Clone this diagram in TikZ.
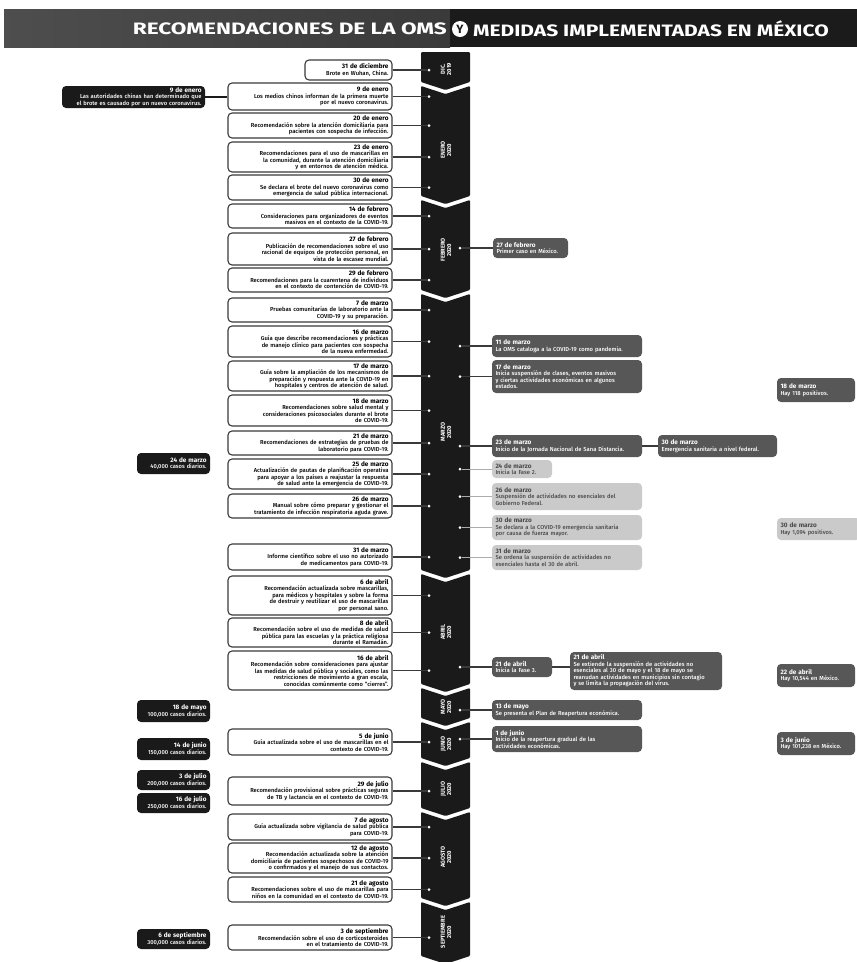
\documentclass[tikz,border=0pt]{standalone}
\usepackage{graphicx}
\usepackage{fontspec}
\setmainfont{Fira Sans}[UprightFont=* Medium, BoldFont=* Bold]
\definecolor{spinec}{HTML}{1A1A1A}
\definecolor{boxline}{HTML}{3A3A3A}
\definecolor{dgray}{HTML}{575757}
\definecolor{lgray}{HTML}{CACACA}
\definecolor{lgtext}{HTML}{4A4A4A}
\definecolor{hdrleft}{HTML}{3A3A3A}
\definecolor{hdrright}{HTML}{1B1B1B}
\newcommand{\tlbox}[7]{%
  \pgfmathsetmacro{\tlbw}{#5-#3}%
  \pgfmathsetmacro{\tlbh}{#6-#4}%
  \pgfmathsetmacro{\tltw}{#5-#3-7}%
  \node[#1, minimum width=\tlbw pt, minimum height=\tlbh pt, text width=\tltw pt] (#2) at ({(#3+#5)/2},{(#4+#6)/2}) {#7};}
\newcommand{\dte}[1]{{\fontsize{6.4}{7}\selectfont\bfseries #1}}
\newcommand{\tlseg}[2]{\fill[spinec, rounded corners=1pt] (421,#1) -- (445.5,#1+8) -- (470,#1) -- (470,#2) -- (445.5,#2+8) -- (421,#2) -- cycle;}
\tikzset{
  boxfont/.style={font=\fontsize{5.8}{6.5}\selectfont},
  wbox/.style={boxfont, draw=boxline, line width=1.1pt, fill=white, rounded corners=4pt, inner xsep=3.5pt, inner ysep=1pt, align=right, text=black},
  bbox/.style={boxfont, fill=spinec, rounded corners=4pt, inner xsep=3.5pt, inner ysep=1pt, align=right, text=white},
  dbox/.style={boxfont, fill=dgray, rounded corners=4pt, inner xsep=3.5pt, inner ysep=1pt, align=left, text=white},
  lbox/.style={boxfont, fill=lgray, rounded corners=4pt, inner xsep=3.5pt, inner ysep=1pt, align=left, text=lgtext},
  conn/.style={draw=boxline, line width=1.2pt},
  lconn/.style={draw=lgray!85!black, line width=0.8pt},
  tdot/.style={circle, fill=white, inner sep=0pt, minimum size=3pt},
  month/.style={rotate=90, text=white, align=center, font=\fontsize{5.8}{6.4}\selectfont\bfseries, inner sep=0pt},
  title/.style={text=white, inner sep=0pt, font=\fontsize{16.5}{17}\selectfont\bfseries},
  ycirc/.style={circle, fill=white, text=hdrright, inner sep=0pt, minimum size=16pt, font=\fontsize{12}{12}\selectfont\bfseries}
}
\begin{document}
\begin{tikzpicture}[x=1pt,y=-1pt]
\useasboundingbox (0,0) rectangle (857,962);
\clip (0,0) rectangle (857,962);
% header
\shade[left color=hdrleft!90!white, right color=hdrleft] (4,9) rectangle (450,47);
\fill[hdrright] (450,9) rectangle (857,47);
\node[title, anchor=east] (t1) at (447,29) {\scalebox{1.37}[1]{RECOMENDACIONES DE LA OMS}};
\node[ycirc] (ty) at (460,29) {Y};
\node[title, anchor=west] (t2) at (473,29) {\scalebox{1.27}[1]{MEDIDAS IMPLEMENTADAS EN MÉXICO}};
% spine
\fill[spinec, rounded corners=1pt] (421,52) -- (470,52) -- (470,82) -- (445.5,90) -- (421,82) -- cycle;
\tlseg{86}{196}
\tlseg{200}{290}
\tlseg{294}{570}
\tlseg{574}{684}
\tlseg{688}{718}
\tlseg{722}{758}
\tlseg{762}{808}
\tlseg{812}{898}
\tlseg{902}{956}
\node[month] (m0) at (446,69) {DIC.\\2019};
\node[month] (m1) at (446,150) {ENERO\\2020};
\node[month] (m2) at (446,250) {FEBRERO\\2020};
\node[month] (m3) at (446,432) {MARZO\\2020};
\node[month] (m4) at (446,632) {ABRIL\\2020};
\node[month] (m5) at (446,707) {MAYO\\2020};
\node[month] (m6) at (446,744) {JUNIO\\2020};
\node[month] (m7) at (446,789) {JULIO\\2020};
\node[month] (m8) at (446,857) {AGOSTO\\2020};
\node[month] (m9) at (446,932) {SEPTIEMBRE\\2020};
\coordinate (lx) at (429,0);
\coordinate (rx) at (460,0);
% left white boxes
\tlbox{wbox}{lb1}{305}{60}{392}{80}{\dte{31 de diciembre}\\Brote en Wuhan, China.}
\tlbox{wbox}{lb2}{228}{83}{392}{110}{\dte{9 de enero}\\Los medios chinos informan de la primera muerte\\por el nuevo coronavirus.}
\tlbox{wbox}{lb3}{228}{113}{392}{138}{\dte{20 de enero}\\Recomendación sobre la atención domiciliaria para\\pacientes con sospecha de infección.}
\tlbox{wbox}{lb4}{228}{142}{392}{172}{\dte{23 de enero}\\Recomendaciones para el uso de mascarillas en\\la comunidad, durante la atención domiciliaria\\y en entornos de atención médica.}
\tlbox{wbox}{lb5}{228}{175}{392}{200}{\dte{30 de enero}\\Se declara el brote del nuevo coronavirus como\\emergencia de salud pública internacional.}
\tlbox{wbox}{lb6}{228}{204}{392}{228}{\dte{14 de febrero}\\Consideraciones para organizadores de eventos\\masivos en el contexto de la COVID-19.}
\tlbox{wbox}{lb7}{228}{233}{392}{265}{\dte{27 de febrero}\\Publicación de recomendaciones sobre el uso\\racional de equipos de protección personal, en\\vista de la escasez mundial.}
\tlbox{wbox}{lb8}{228}{268}{392}{292}{\dte{29 de febrero}\\Recomendaciones para la cuarentena de individuos\\en el contexto de contención de COVID-19.}
\tlbox{wbox}{lb9}{228}{298}{392}{322}{\dte{7 de marzo}\\Pruebas comunitarias de laboratorio ante la\\COVID-19 y su preparación.}
\tlbox{wbox}{lb10}{228}{326}{392}{357}{\dte{16 de marzo}\\Guía que describe recomendaciones y prácticas\\de manejo clínico para pacientes con sospecha\\de la nueva enfermedad.}
\tlbox{wbox}{lb11}{228}{361}{392}{391}{\dte{17 de marzo}\\Guía sobre la ampliación de los mecanismos de\\preparación y respuesta ante la COVID-19 en\\hospitales y centros de atención de salud.}
\tlbox{wbox}{lb12}{228}{395}{392}{426}{\dte{18 de marzo}\\Recomendaciones sobre salud mental y\\consideraciones psicosociales durante el brote\\de COVID-19.}
\tlbox{wbox}{lb13}{228}{431}{392}{455}{\dte{21 de marzo}\\Recomendaciones de estrategias de pruebas de\\laboratorio para COVID-19.}
\tlbox{wbox}{lb14}{228}{459}{392}{489}{\dte{25 de marzo}\\Actualización de pautas de planificación operativa\\para apoyar a los países a reajustar la respuesta\\de salud ante la emergencia de COVID-19.}
\tlbox{wbox}{lb15}{228}{494}{392}{518}{\dte{26 de marzo}\\Manual sobre cómo preparar y gestionar el\\tratamiento de infección respiratoria aguda grave.}
\tlbox{wbox}{lb16}{228}{544}{392}{570}{\dte{31 de marzo}\\Informe científico sobre el uso no autorizado\\de medicamentos para COVID-19.}
\tlbox{wbox}{lb17}{228}{576}{392}{615}{\dte{6 de abril}\\Recomendación actualizada sobre mascarillas,\\para médicos y hospitales y sobre la forma\\de destruir y reutilizar el uso de mascarillas\\por personal sano.}
\tlbox{wbox}{lb18}{228}{618}{392}{647}{\dte{8 de abril}\\Recomendación sobre el uso de medidas de salud\\pública para las escuelas y la práctica religiosa\\durante el Ramadán.}
\tlbox{wbox}{lb19}{228}{651}{392}{690}{\dte{16 de abril}\\Recomendación sobre consideraciones para ajustar\\las medidas de salud pública y sociales, como las\\restricciones de movimiento a gran escala,\\conocidas comúnmente como ``cierres''.}
\tlbox{wbox}{lb20}{228}{729}{392}{755}{\dte{5 de junio}\\Guía actualizada sobre el uso de mascarillas en el\\contexto de COVID-19.}
\tlbox{wbox}{lb21}{228}{777}{392}{805}{\dte{29 de julio}\\Recomendación provisional sobre prácticas seguras\\de TB y lactancia en el contexto de COVID-19.}
\tlbox{wbox}{lb22}{228}{814}{392}{840}{\dte{7 de agosto}\\Guía actualizada sobre vigilancia de salud pública\\para COVID-19.}
\tlbox{wbox}{lb23}{228}{843}{392}{873}{\dte{12 de agosto}\\Recomendación actualizada sobre la atención\\domiciliaria de pacientes sospechosos de COVID-19\\o confirmados y el manejo de sus contactos.}
\tlbox{wbox}{lb24}{228}{877}{392}{902}{\dte{21 de agosto}\\Recomendaciones sobre el uso de mascarillas para\\niños en la comunidad en el contexto de COVID-19.}
\tlbox{wbox}{lb25}{228}{925}{392}{950}{\dte{3 de septiembre}\\Recomendación sobre el uso de corticosteroides\\en el tratamiento de COVID-19.}
\foreach \i in {1,...,25} {
  \node[tdot] (ld\i) at (lb\i.east -| lx) {};
  \draw[conn] (lb\i.east) -- (ld\i);
}
% left black boxes
\tlbox{bbox}{bb1}{62}{86}{205}{108}{\dte{9 de enero}\\Las autoridades chinas han determinado que\\el brote es causado por un nuevo coronavirus.}
\tlbox{bbox}{bb2}{137}{453}{210}{474}{\dte{24 de marzo}\\40,000 casos diarios.}
\tlbox{bbox}{bb3}{137}{700}{210}{722}{\dte{18 de mayo}\\100,000 casos diarios.}
\tlbox{bbox}{bb4}{137}{738}{210}{760}{\dte{14 de junio}\\150,000 casos diarios.}
\tlbox{bbox}{bb5}{137}{770}{210}{790}{\dte{3 de julio}\\200,000 casos diarios.}
\tlbox{bbox}{bb6}{137}{793}{210}{813}{\dte{16 de julio}\\250,000 casos diarios.}
\tlbox{bbox}{bb7}{137}{929}{210}{949}{\dte{6 de septiembre}\\300,000 casos diarios.}
\draw[conn, line width=1.8pt, draw=spinec] (bb1.east) -- (bb1.east -| lb2.west);
% right boxes
\tlbox{dbox}{rd1}{493}{238}{568}{258}{\dte{27 de febrero}\\Primer caso en México.}
\tlbox{dbox}{rd2}{492}{335}{642}{357}{\dte{11 de marzo}\\La OMS cataloga a la COVID-19 como pandemia.}
\tlbox{dbox}{rd3}{492}{360}{642}{393}{\dte{17 de marzo}\\Inicia suspensión de clases, eventos masivos\\y ciertas actividades económicas en algunos\\estados.}
\tlbox{dbox}{rd4}{492}{435}{642}{457}{\dte{23 de marzo}\\Inicio de la Jornada Nacional de Sana Distancia.}
\tlbox{dbox}{rd5}{658}{435}{777}{457}{\dte{30 de marzo}\\Emergencia sanitaria a nivel federal.}
\tlbox{lbox}{rl1}{492}{460}{552}{478}{\dte{24 de marzo}\\Inicia la Fase 2.}
\tlbox{lbox}{rl2}{492}{483}{642}{510}{\dte{26 de marzo}\\Suspensión de actividades no esenciales del\\Gobierno Federal.}
\tlbox{lbox}{rl3}{492}{515}{642}{540}{\dte{30 de marzo}\\Se declara a la COVID-19 emergencia sanitaria\\por causa de fuerza mayor.}
\tlbox{lbox}{rl4}{492}{545}{642}{570}{\dte{31 de marzo}\\Se ordena la suspensión de actividades no\\esenciales hasta el 30 de abril.}
\tlbox{dbox}{rd6}{492}{657}{552}{677}{\dte{21 de abril}\\Inicia la Fase 3.}
\tlbox{dbox}{rd7}{570}{652}{722}{690}{\dte{21 de abril}\\Se extiende la suspensión de actividades no\\esenciales al 30 de mayo y el 18 de mayo se\\reanudan actividades en municipios sin contagio\\y se limita la propagación del virus.}
\tlbox{dbox}{rd8}{492}{700}{642}{720}{\dte{13 de mayo}\\Se presenta el Plan de Reapertura económica.}
\tlbox{dbox}{rd9}{492}{726}{642}{752}{\dte{1 de junio}\\Inicio de la reapertura gradual de las\\actividades económicas.}
\tlbox{dbox}{fr1}{777}{378}{855}{402}{\dte{18 de marzo}\\Hay 118 positivos.}
\tlbox{lbox}{fr2}{777}{518}{860}{540}{\dte{30 de marzo}\\Hay 1,094 positivos.}
\tlbox{dbox}{fr3}{777}{664}{855}{687}{\dte{22 de abril}\\Hay 10,544 en México.}
\tlbox{dbox}{fr4}{777}{732}{855}{755}{\dte{3 de junio}\\Hay 101,238 en México.}
\foreach \r in {rd1,rd2,rd3,rd4,rd6,rd8,rd9} {
  \node[tdot] (dot-\r) at (\r.west -| rx) {};
  \draw[conn] (dot-\r) -- (\r.west);
}
\foreach \r in {rl1,rl2,rl3,rl4} {
  \node[tdot] (dot-\r) at (\r.west -| rx) {};
  \draw[lconn] (dot-\r) -- (\r.west);
}
\draw[conn] (rd4.east) -- (rd5.west);
\draw[conn] (rd6.east) -- (rd6.east -| rd7.west);
\end{tikzpicture}
\end{document}
